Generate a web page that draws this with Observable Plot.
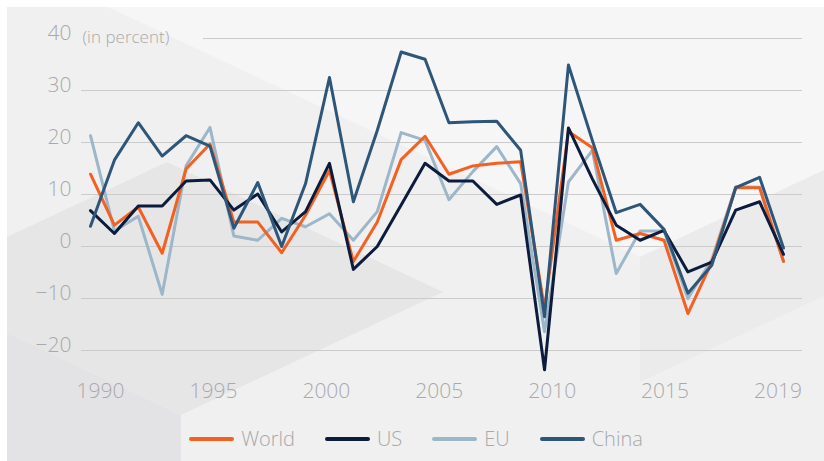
<!DOCTYPE html>
<html>
<head>
<meta charset="utf-8">
<script src="https://cdn.jsdelivr.net/npm/d3@7"></script>
<script src="https://cdn.jsdelivr.net/npm/@observablehq/plot@0.6"></script>
<style>
  html, body { margin: 0; padding: 0; background: #ffffff; }
  #wrap { position: relative; width: 824px; height: 461px; overflow: hidden; font-family: "Open Sans", sans-serif; }
  #bg { position: absolute; left: 0; top: 0; }
  #chart { position: absolute; left: 0; top: 0; }
  #legend { position: absolute; left: 4px; top: 425px; width: 824px; height: 28px; display: flex; justify-content: center; align-items: center; }
  .item { display: flex; align-items: center; margin: 0 15px; }
  .sw { width: 45px; height: 4px; border-radius: 2px; margin-right: 7px; }
  .lab { font-size: 20px; font-weight: 300; color: #a7a8ab; line-height: 28px; }
</style>
</head>
<body>
<div id="wrap">
  <svg id="bg" width="824" height="461" xmlns="http://www.w3.org/2000/svg">
    <rect x="7" y="7" width="817" height="454" fill="#f0f0f0"/>
    <polygon points="108,7 824,7 824,170 640,257" fill="#f6f6f6"/>
    <polygon points="640,257 824,170 824,296 640,382" fill="#ebebeb"/>
    <polygon points="7,237 167,162 443,292 181,415 7,333" fill="#e6e6e6"/>
    <polygon points="7,333 181,415 181,461 7,461" fill="#e3e3e5"/>
  </svg>
  <div id="chart"></div>
  <div id="legend"></div>
</div>
<script>
// ---- data ----
const years = [1990, 1991, 1992, 1993, 1994, 1995, 1996, 1997, 1998, 1999,
               2000, 2001, 2002, 2003, 2004, 2005, 2006, 2007, 2008, 2009,
               2010, 2011, 2012, 2013, 2014, 2015, 2016, 2017, 2018, 2019];
const world = [13.9, 4.1, 7.6, -1.3, 14.9, 19.7, 4.7, 4.7, -1.2, 6.0,
               14.6, -2.9, 4.7, 16.7, 21.2, 13.9, 15.5, 16.0, 16.3, -12.0,
               22.1, 19.0, 1.2, 2.5, 1.2, -12.9, -3.0, 11.3, 11.3, -2.9];
const us    = [6.9, 2.5, 7.8, 7.8, 12.6, 12.8, 7.0, 10.1, 2.8, 6.7,
               16.0, -4.4, 0.0, 8.0, 16.0, 12.6, 12.6, 8.1, 9.9, -23.7,
               22.8, 13.0, 4.1, 1.2, 3.1, -4.9, -3.0, 7.0, 8.6, -1.5];
const eu    = [21.3, 3.0, 5.8, -9.2, 15.5, 22.9, 2.0, 1.2, 5.4, 3.8,
               6.3, 1.2, 6.7, 21.9, 20.4, 9.0, 14.4, 19.2, 12.1, -16.4,
               12.4, 18.5, -5.2, 3.0, 3.0, -10.0, -2.5, 11.5, 11.4, -2.8];
const china = [3.9, 16.6, 23.8, 17.4, 21.3, 19.3, 3.5, 12.3, 0.0, 12.1,
               32.5, 8.6, 22.3, 37.4, 36.0, 23.8, 24.0, 24.1, 18.5, -13.5,
               34.9, 20.4, 6.5, 8.1, 3.3, -9.0, -3.6, 11.3, 13.3, -0.3];
const seriesNames  = ["World", "US", "EU", "China"];
const seriesColors = ["#f26122", "#0b1c3c", "#9cb6ca", "#2e5679"];
const yTicks = [-20, -10, 0, 10, 20, 30, 40];
const xTickLabels = ["1990", "1995", "2000", "2005", "2010", "2015", "2019"];
const unitLabel = "(in percent)";

// ---- build table ----
const valuesBySeries = new Map([["World", world], ["US", us], ["EU", eu], ["China", china]]);
const drawOrder = ["EU", "World", "US", "China"];
const rows = drawOrder.flatMap(name =>
  years.map((year, i) => ({ year, value: valuesBySeries.get(name)[i], series: name })));

// labels of the reference are spread evenly over the span (layout, not data)
const xTickPos = xTickLabels.map((_, i) => 1990.42 + i * 4.725);
const labelAt = new Map(xTickPos.map((p, i) => [p, xTickLabels[i]]));

const chart = Plot.plot({
  width: 824,
  height: 410,
  marginLeft: 90,
  marginRight: 41,
  marginTop: 38,
  marginBottom: 60,
  style: { background: "transparent", color: "#a9a9ab", fontFamily: "'Open Sans', sans-serif", overflow: "visible" },
  x: { domain: [years[0], years[years.length - 1]] },
  y: { domain: [-20, 40] },
  color: { domain: seriesNames, range: seriesColors },
  marks: [
    Plot.ruleY(yTicks.filter(d => d !== 40), { stroke: "#cbcbcb", strokeWidth: 1, insetLeft: -9, insetRight: -19 }),
    Plot.ruleY([40], { stroke: "#cbcbcb", strokeWidth: 1, insetLeft: 113, insetRight: -19 }),
    Plot.axisY({ ticks: yTicks, tickSize: 0, tickPadding: 19, fontSize: 21, fontWeight: 300, dy: -5, label: null }),
    Plot.axisX({ ticks: xTickPos, tickFormat: d => labelAt.get(d), tickSize: 0, tickPadding: 33, fontSize: 21, fontWeight: 300, label: null }),
    Plot.text([unitLabel], { frameAnchor: "top-left", lineAnchor: "middle", dx: -8, dy: -1, textAnchor: "start", fontSize: 17, fontWeight: 300, fill: "#a9a9ab" }),
    Plot.line(rows, { x: "year", y: "value", z: "series", stroke: "series", strokeWidth: 3, strokeLinejoin: "round", strokeLinecap: "round" })
  ]
});
document.getElementById("chart").appendChild(chart);

// ---- legend ----
const legend = document.getElementById("legend");
seriesNames.forEach((name, i) => {
  const item = document.createElement("div");
  item.className = "item";
  const sw = document.createElement("span");
  sw.className = "sw";
  sw.style.background = seriesColors[i];
  const lab = document.createElement("span");
  lab.className = "lab";
  lab.textContent = name;
  item.appendChild(sw);
  item.appendChild(lab);
  legend.appendChild(item);
});
</script>
</body>
</html>
